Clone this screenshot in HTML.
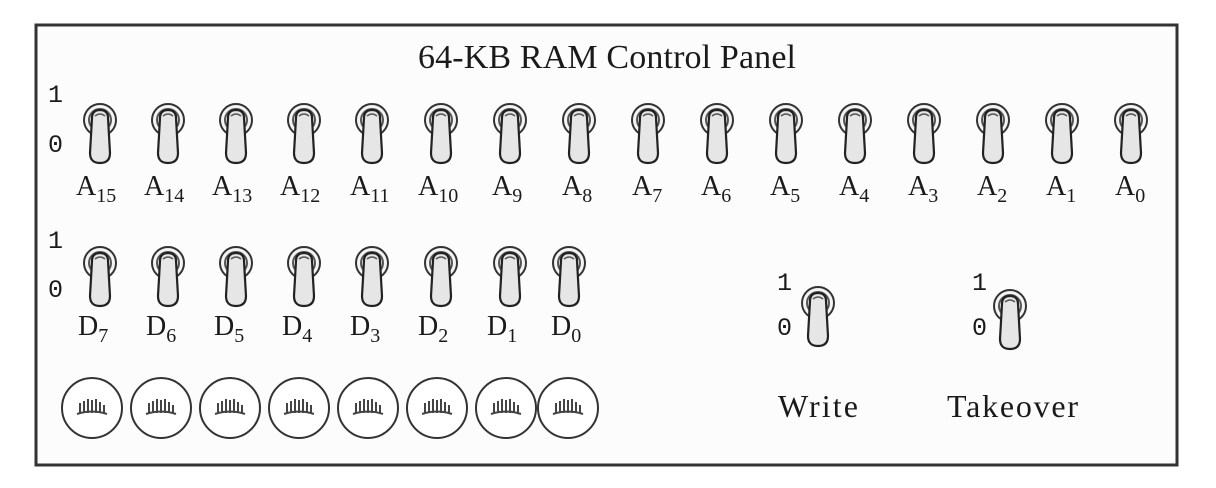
<!DOCTYPE html>
<html><head><meta charset="utf-8"><style>
html,body{margin:0;padding:0;background:#fff;}
svg{display:block}
.t{font-family:"Liberation Serif",serif;fill:#1a1a1a}
.m{font-family:"Liberation Mono",monospace;fill:#1a1a1a;font-size:25px}
</style></head><body>
<svg width="1216" height="488" viewBox="0 0 1216 488" xmlns="http://www.w3.org/2000/svg">
<defs>
<g id="sw">
<circle cx="0" cy="0" r="16" fill="#f4f4f4" stroke="#333" stroke-width="2"/>
<circle cx="0" cy="0" r="11" fill="none" stroke="#555" stroke-width="2"/>
<path d="M-8,-2 Q-8,-10 0,-10 Q8,-10 8,-2 L10,33 Q10,43 0,43 Q-10,43 -10,33 Z" fill="#e6e6e6" stroke="#222" stroke-width="2.2"/>
<path d="M-5,-4 Q0,-8 5,-4" fill="none" stroke="#555" stroke-width="1.5"/>
</g>
<g id="bulb">
<circle cx="0" cy="0" r="30" fill="#fff" stroke="#333" stroke-width="2"/>
<path d="M-15,6 Q0,1 15,6 M-12,5 L-12,-5 M-8,5 L-8,-7 M-4,5 L-4,-9 M0,5 L0,-8 M4,5 L4,-9 M8,5 L8,-6 M12,5 L12,-3" stroke="#444" stroke-width="2" fill="none"/>
</g>
</defs>
<rect x="36" y="25" width="1141" height="440" fill="#fcfcfc" stroke="#333" stroke-width="3"/>
<text class="t" x="607" y="68" font-size="34" text-anchor="middle" textLength="378">64-KB RAM Control Panel</text>
<text class="m" x="48" y="102">1</text>
<text class="m" x="48" y="152">0</text>
<text class="m" x="48" y="248">1</text>
<text class="m" x="48" y="297">0</text>
<use href="#sw" x="100" y="120"/><use href="#sw" x="168" y="120"/><use href="#sw" x="236" y="120"/><use href="#sw" x="304" y="120"/>
<use href="#sw" x="372" y="120"/><use href="#sw" x="441" y="120"/><use href="#sw" x="510" y="120"/><use href="#sw" x="579" y="120"/>
<use href="#sw" x="648" y="120"/><use href="#sw" x="717" y="120"/><use href="#sw" x="786" y="120"/><use href="#sw" x="855" y="120"/>
<use href="#sw" x="924" y="120"/><use href="#sw" x="993" y="120"/><use href="#sw" x="1062" y="120"/><use href="#sw" x="1131" y="120"/>
<g class="t" font-size="28">
<text x="76" y="195">A<tspan font-size="20" dy="7">15</tspan></text>
<text x="144" y="195">A<tspan font-size="20" dy="7">14</tspan></text>
<text x="212" y="195">A<tspan font-size="20" dy="7">13</tspan></text>
<text x="280" y="195">A<tspan font-size="20" dy="7">12</tspan></text>
<text x="350" y="195">A<tspan font-size="20" dy="7">11</tspan></text>
<text x="418" y="195">A<tspan font-size="20" dy="7">10</tspan></text>
<text x="492" y="195">A<tspan font-size="20" dy="7">9</tspan></text>
<text x="562" y="195">A<tspan font-size="20" dy="7">8</tspan></text>
<text x="632" y="195">A<tspan font-size="20" dy="7">7</tspan></text>
<text x="701" y="195">A<tspan font-size="20" dy="7">6</tspan></text>
<text x="770" y="195">A<tspan font-size="20" dy="7">5</tspan></text>
<text x="839" y="195">A<tspan font-size="20" dy="7">4</tspan></text>
<text x="908" y="195">A<tspan font-size="20" dy="7">3</tspan></text>
<text x="977" y="195">A<tspan font-size="20" dy="7">2</tspan></text>
<text x="1046" y="195">A<tspan font-size="20" dy="7">1</tspan></text>
<text x="1115" y="195">A<tspan font-size="20" dy="7">0</tspan></text>
</g>
<use href="#sw" x="100" y="263"/><use href="#sw" x="168" y="263"/><use href="#sw" x="236" y="263"/><use href="#sw" x="304" y="263"/>
<use href="#sw" x="372" y="263"/><use href="#sw" x="441" y="263"/><use href="#sw" x="510" y="263"/><use href="#sw" x="569" y="263"/>
<g class="t" font-size="28">
<text x="78" y="335">D<tspan font-size="20" dy="7">7</tspan></text>
<text x="146" y="335">D<tspan font-size="20" dy="7">6</tspan></text>
<text x="214" y="335">D<tspan font-size="20" dy="7">5</tspan></text>
<text x="282" y="335">D<tspan font-size="20" dy="7">4</tspan></text>
<text x="350" y="335">D<tspan font-size="20" dy="7">3</tspan></text>
<text x="418" y="335">D<tspan font-size="20" dy="7">2</tspan></text>
<text x="487" y="335">D<tspan font-size="20" dy="7">1</tspan></text>
<text x="551" y="335">D<tspan font-size="20" dy="7">0</tspan></text>
</g>
<text class="m" x="777" y="290">1</text>
<text class="m" x="777" y="335">0</text>
<use href="#sw" x="818" y="303"/>
<text class="m" x="972" y="290">1</text>
<text class="m" x="972" y="335">0</text>
<use href="#sw" x="1010" y="306"/>
<text class="t" x="778" y="417" font-size="32" textLength="80">Write</text>
<text class="t" x="947" y="417" font-size="32" textLength="131">Takeover</text>
<use href="#bulb" x="92" y="408"/><use href="#bulb" x="161" y="408"/><use href="#bulb" x="230" y="408"/><use href="#bulb" x="299" y="408"/>
<use href="#bulb" x="368" y="408"/><use href="#bulb" x="437" y="408"/><use href="#bulb" x="506" y="408"/><use href="#bulb" x="568" y="408"/>
</svg>
</body></html>
